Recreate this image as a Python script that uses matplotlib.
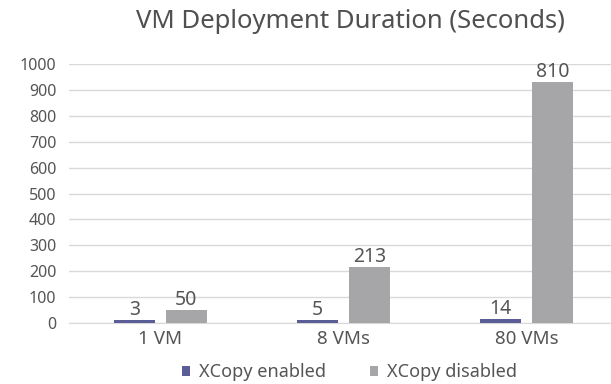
import numpy as np
import matplotlib.pyplot as plt

plt.rcParams['font.family'] = ['Noto Sans', 'DejaVu Sans']

categories = ['1 VM', '8 VMs', '80 VMs']
# bar heights as drawn in the picture
enabled_height = [13, 13, 15]
disabled_height = [52, 215, 930]
# labels printed over the bars
enabled_labels = ['3', '5', '14']
disabled_labels = ['50', '213', '810']
series = ['XCopy enabled', 'XCopy disabled']
colors = ['#5b5e96', '#a6a6a9']
yticks = [0, 100, 200, 300, 400, 500, 600, 700, 800, 900, 1000]

txt = '#555555'
fig = plt.figure(figsize=(6.11, 3.84), dpi=100)
ax = fig.add_axes([69/611, 61/384, 549/611, 259/384])

x = np.arange(len(categories))
w = 0.224
off = 0.142
b1 = ax.bar(x - off, enabled_height, w, color=colors[0], label=series[0], zorder=3)
b2 = ax.bar(x + off, disabled_height, w, color=colors[1], label=series[1], zorder=3)

for bars, labs in [(b1, enabled_labels), (b2, disabled_labels)]:
    for b, l in zip(bars, labs):
        ax.annotate(l, (b.get_x() + b.get_width() / 2, b.get_height()),
                    xytext=(0, 0), textcoords='offset points',
                    ha='center', va='bottom', fontsize=14, color=txt)

ax.set_xlim(-0.5, 2.5)
ax.set_ylim(0, 1000)
ax.set_yticks(yticks)
ax.set_xticks(x)
ax.set_xticklabels(categories)
ax.tick_params(length=0, labelcolor=txt)
ax.tick_params(axis='y', pad=9, labelsize=11.5)
ax.tick_params(axis='x', pad=5, labelsize=13.5)
ax.yaxis.grid(True, color='#d9d9d9', linewidth=1, zorder=0)
for s in ['top', 'right', 'left']:
    ax.spines[s].set_visible(False)
ax.spines['bottom'].set_color('#d9d9d9')

fig.text(0.574, 0.945, 'VM Deployment Duration (Seconds)', ha='center', va='center',
         fontsize=18.5, color='#505050', fontweight='medium')
fig.legend(loc='center', bbox_to_anchor=(0.572, 0.031), ncol=2, frameon=False,
           fontsize=13, labelcolor=txt, handlelength=0.45, handleheight=0.45,
           handletextpad=0.5, columnspacing=2.4)

fig.savefig('out.png', dpi=100)
